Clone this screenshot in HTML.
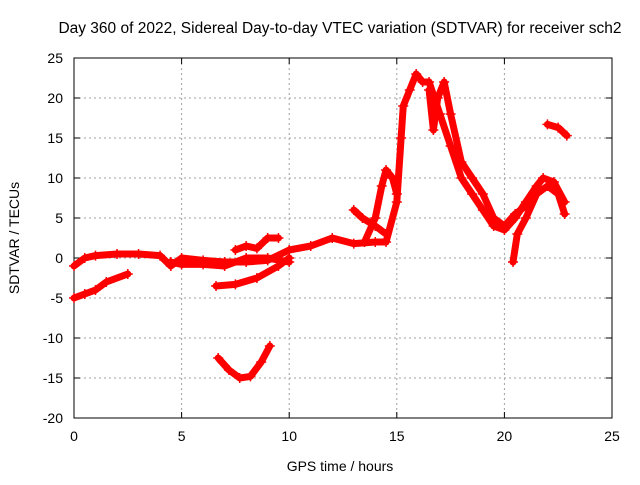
<!DOCTYPE html>
<html><head><meta charset="utf-8"><style>
body{margin:0;background:#fff}
svg text{font-family:"Liberation Sans",sans-serif;font-size:14px;fill:#000}
</style></head><body>
<svg id="chart" width="640" height="480" xmlns="http://www.w3.org/2000/svg">
<rect width="640" height="480" fill="#fff"/>
<text x="340" y="33" text-anchor="middle" style="font-size:15.5px">Day 360 of 2022, Sidereal Day-to-day VTEC variation (SDTVAR) for receiver sch2</text>
<text x="340" y="471" text-anchor="middle">GPS time / hours</text>
<text transform="translate(19,238) rotate(-90)" text-anchor="middle">SDTVAR / TECUs</text>
<g id="grid"></g><g id="axes"></g><g id="marks"></g>
</svg>
<script>
const xTicks=[0,5,10,15,20,25];
const yTicks=[25,20,15,10,5,0,-5,-10,-15,-20];
const track1=[[0,-1],[0.5,0],[1,0.3],[2,0.5],[3,0.5],[4,0.3],[4.5,-1],[5,0],[6,-0.3],[7,-0.5],[8,-0.5],[9,-0.3],[10,1],[11,1.5],[12,2.5],[13,1.8],[14,2],[14.5,2],[15,7],[15.2,15],[15.3,19],[15.6,21],[15.9,23],[16.2,22],[16.5,22],[17,18],[17.5,14],[18,10],[18.5,8],[19,6],[19.5,4],[20,3.5],[20.5,5],[21,7],[21.5,9],[21.8,10],[22.3,9.5],[22.8,7]];
const track2=[[0,-5],[0.5,-4.5],[1,-4],[1.5,-3],[2.5,-2]];
const track3=[[6.6,-3.5],[7.5,-3.3],[8.5,-2.5],[9.5,-1],[10,0]];
const track4=[[6.7,-12.5],[7.2,-14],[7.7,-15],[8.2,-14.8],[8.7,-13],[9.1,-11]];
const track5=[[4.5,-0.5],[5,-0.8],[6,-0.8],[7,-1],[8,0],[9,0],[10,-0.5]];
const track6=[[7.5,1],[8,1.5],[8.5,1.2],[9,2.5],[9.5,2.5]];
const track7=[[13.5,2],[14,5],[14.3,9],[14.5,11],[14.8,10],[15,8]];
const track8=[[13,6],[13.4,5],[14,4],[14.5,3]];
const track9=[[16.5,21],[16.7,16],[16.9,20],[17.2,22],[17.5,18],[18,12],[18.5,10],[19,8],[19.5,5],[20,4],[20.5,5.5],[21,6.5]];
const track10=[[20.4,-0.5],[20.6,3],[21,5],[21.5,8],[22,9],[22.5,8],[22.8,5.5]];
const track11=[[22,16.7],[22.5,16.3],[22.9,15.3]];
const tracks=[track1,track2,track3,track4,track5,track6,track7,track8,track9,track10,track11];
const X0=74,X1=612,Y0=418,Y1=58;
const sx=t=>X0+(t-0)/(25-0)*(X1-X0);
const sy=v=>Y0-(v+20)/(45)*(Y0-Y1);
const NS="http://www.w3.org/2000/svg";
const g=document.getElementById('grid'),a=document.getElementById('axes'),m=document.getElementById('marks');
function mk(tag,at,p){const e=document.createElementNS(NS,tag);for(const k in at)e.setAttribute(k,at[k]);p.appendChild(e);return e;}
xTicks.forEach(t=>{const x=sx(t);
 if(t>0&&t<25){const l=mk('line',{x1:x,x2:x,y1:Y1,y2:Y0,stroke:'#a0a0a0','stroke-dasharray':'2,3','stroke-width':1},g);
 
 }
 const tx=mk('text',{x:x,y:Y0+23,'text-anchor':'middle'},a);tx.textContent=t;
 
 
 mk('line',{x1:x,x2:x,y1:Y0,y2:Y0-6,stroke:'#000'},a);mk('line',{x1:x,x2:x,y1:Y1,y2:Y1+6,stroke:'#000'},a);});
yTicks.forEach(v=>{const y=sy(v);
 if(v>-20&&v<25){const l=mk('line',{x1:X0,x2:X1,y1:y,y2:y,stroke:'#a0a0a0','stroke-dasharray':'2,3','stroke-width':1},g);
 
 }
 const tx=mk('text',{x:X0-11,y:y+5,'text-anchor':'end'},a);tx.textContent=v;
 
 
 mk('line',{x1:X0,x2:X0+6,y1:y,y2:y,stroke:'#000'},a);mk('line',{x1:X1,x2:X1-6,y1:y,y2:y,stroke:'#000'},a);});
const fr=mk('rect',{x:X0,y:Y1,width:X1-X0,height:Y0-Y1,fill:'none',stroke:'#000'},a);


tracks.forEach((tr,i)=>{
 const pl=mk('polyline',{points:tr.map(p=>sx(p[0])+','+sy(p[1])).join(' '),fill:'none',stroke:'#ff0000','stroke-width':7,'stroke-linejoin':'round','stroke-linecap':'round'},m);
 
 
 tr.forEach(p=>{const x=sx(p[0]),y=sy(p[1]);
  const pt=mk('path',{d:`M${x-5},${y}H${x+5}M${x},${y-5}V${y+5}`,stroke:'#ff0000','stroke-width':1.5},m);
  
  });
});
</script>
</body></html>
